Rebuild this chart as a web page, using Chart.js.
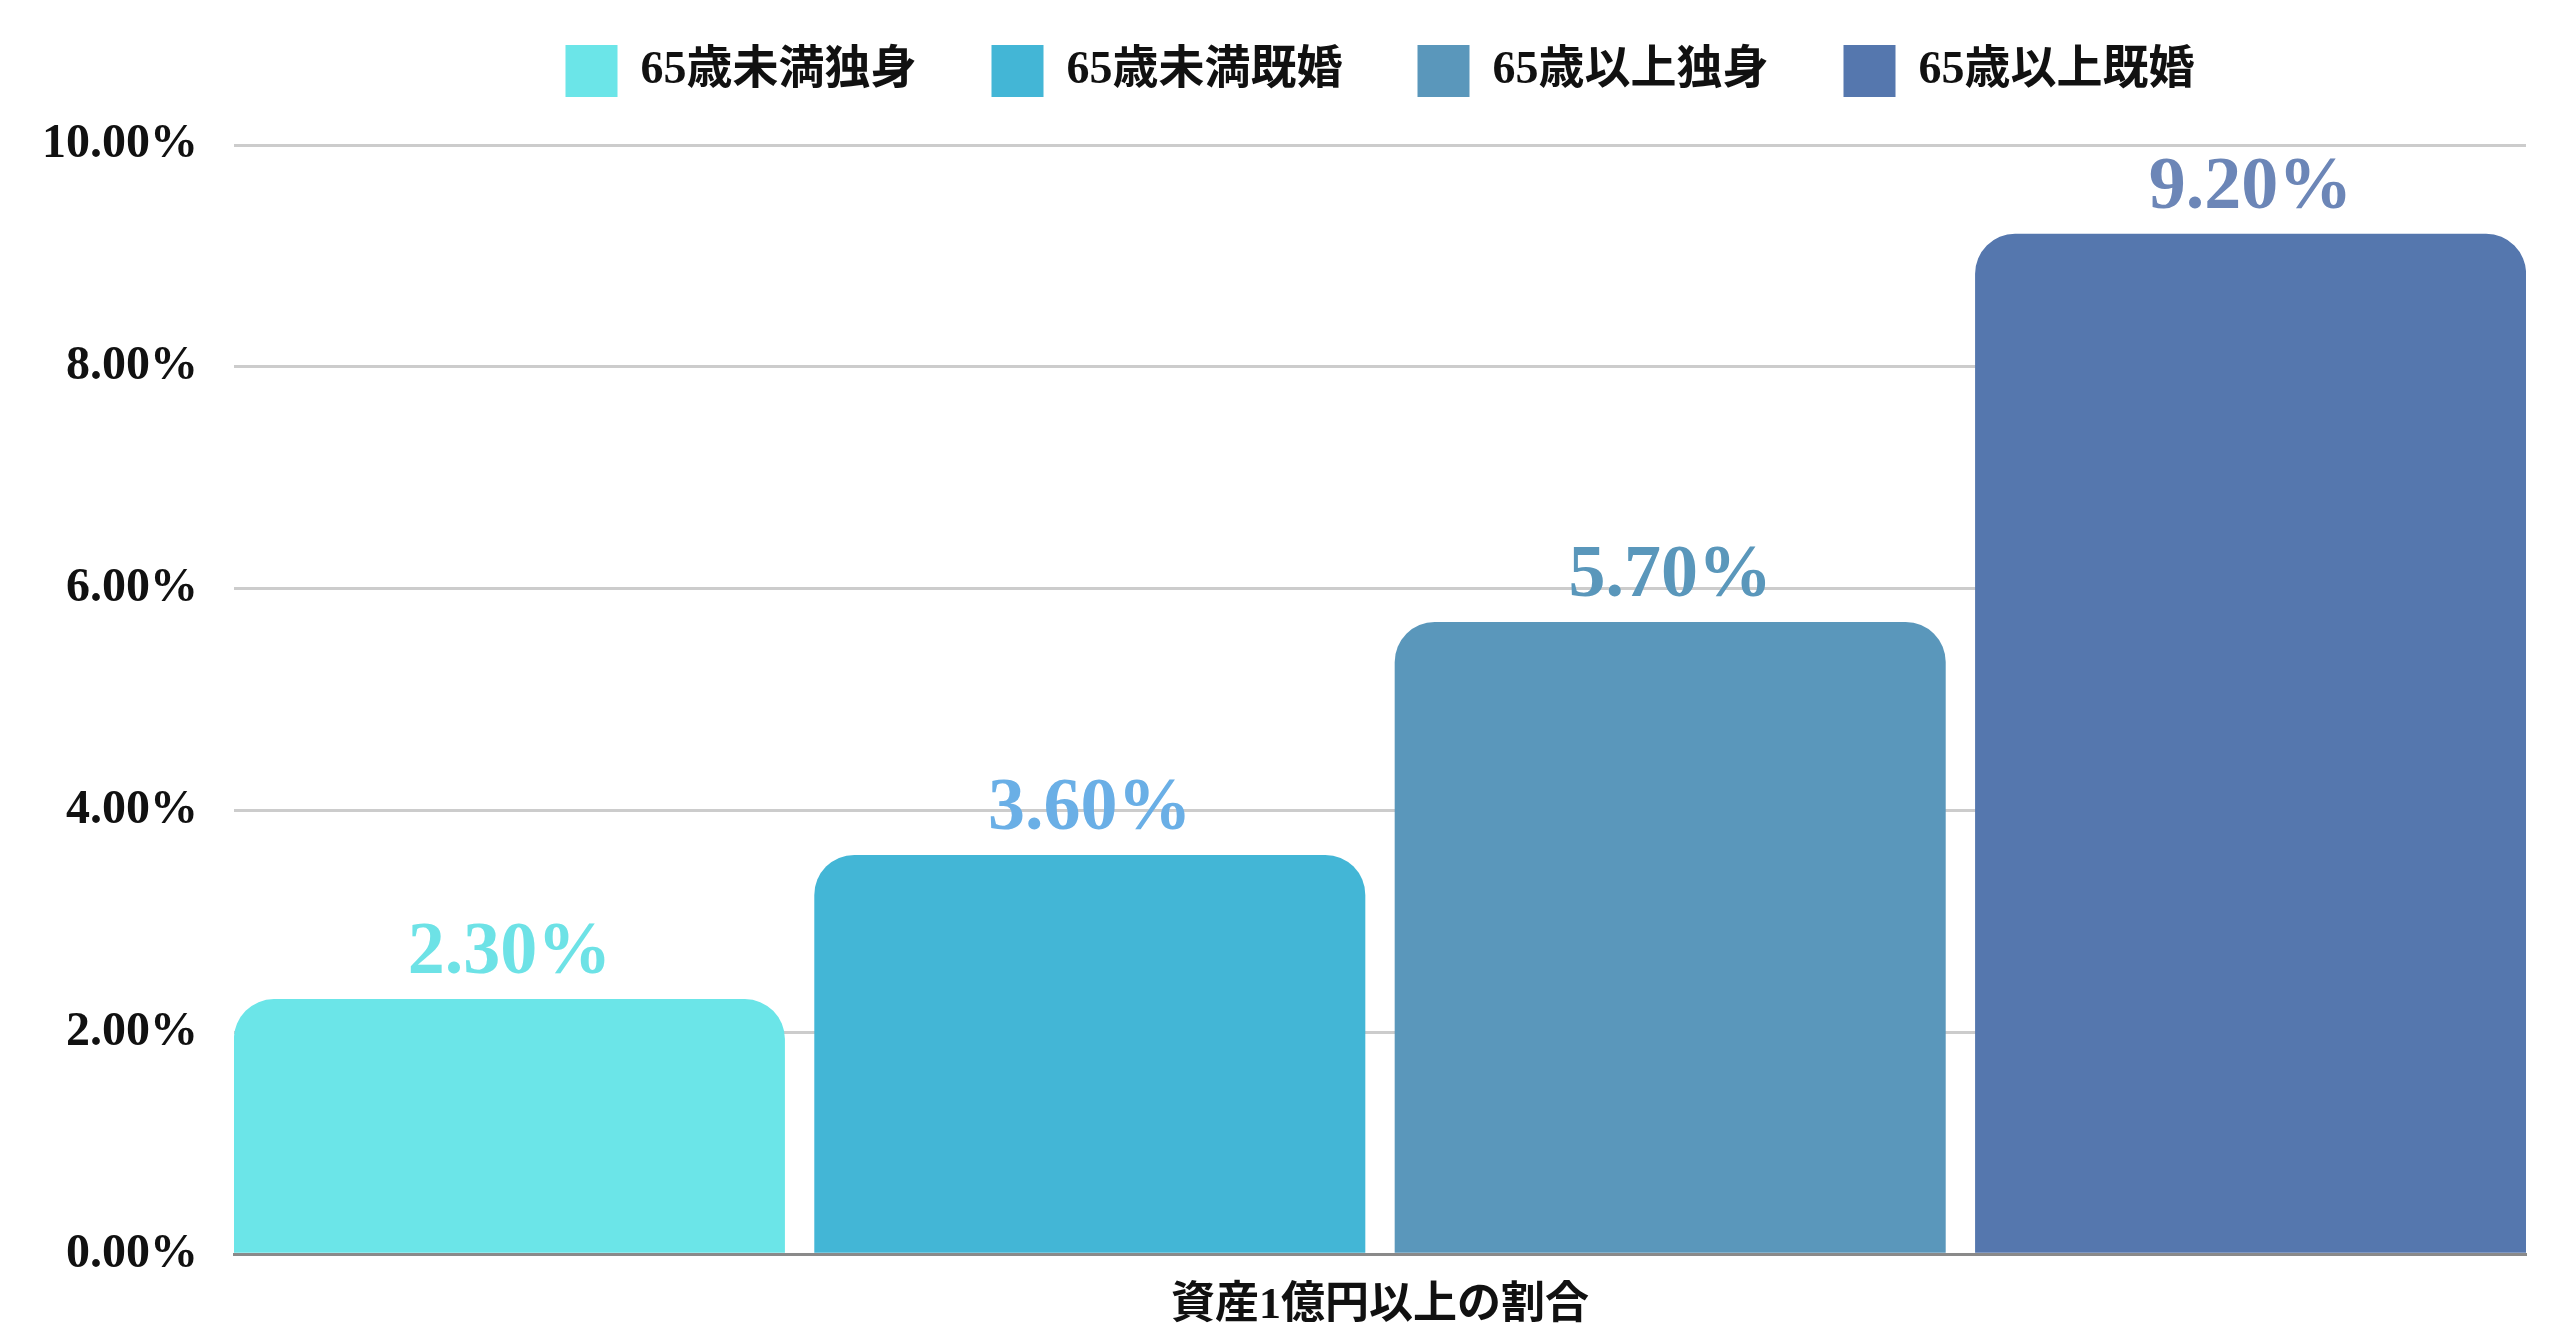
<!DOCTYPE html>
<html>
<head>
<meta charset="utf-8">
<script src="https://cdn.jsdelivr.net/npm/chart.js@4/dist/chart.umd.min.js"></script>
<style>
 html, body { margin:0; padding:0; background:#fff; }
 #wrap { width:2560px; height:1337px; }
</style>
</head>
<body>
<div id="wrap"><canvas id="chart"></canvas></div>
<script>

const categories = ["資産1億円以上の割合"]
const seriesNames = ["65歳未満独身", "65歳未満既婚", "65歳以上独身", "65歳以上既婚"]
const seriesValues = [2.3, 3.6, 5.7, 9.2]
const barColors = ["#6be5e8", "#43b6d6", "#5a97bb", "#5577ae"]
const labelColors = ["#6de2e6", "#6aafe6", "#5a97bb", "#6c86b7"]
const yTicks = [0, 2, 4, 6, 8, 10]

const FONT = '"Liberation Serif", "Noto Sans CJK JP", serif'

// value labels above each bar
const valueLabels = {
 id: "valueLabels",
 afterDatasetsDraw(chart){
  const ctx = chart.ctx
  ctx.save()
  ctx.font = "bold 74px " + FONT
  ctx.textAlign = "center"
  ctx.textBaseline = "alphabetic"
  chart.data.datasets.forEach((ds, i)=>{
   const bar = chart.getDatasetMeta(i).data[0]
   ctx.fillStyle = labelColors[i]
   ctx.fillText(ds.data[0].toFixed(2) + "%", bar.x, bar.y - 26)
  })
  ctx.restore()
 }
}

const datasets = seriesNames.map((name, i)=>({
 label: name,
 data: [seriesValues[i]],
 backgroundColor: barColors[i],
 borderWidth: 0,
 borderRadius: 40,
 borderSkipped: "bottom",
 categoryPercentage: 1.0129,
 barPercentage: 0.9494
}))

new Chart(document.getElementById("chart").getContext("2d"), {
 type: "bar",
 data: { labels: categories, datasets: datasets },
 plugins: [valueLabels],
 options: {
  responsive: true,
  maintainAspectRatio: false,
  animation: false,
  layout: { padding: { top: -30, left: 6, right: 34, bottom: -14 } },
  plugins: {
   tooltip: { enabled: false },
   legend: {
    position: "top",
    fullSize: false,
    weight: 3000,
    labels: {
     boxWidth: 52,
     boxHeight: 52,
     padding: 75,
     color: "#111",
     font: { family: FONT, size: 46, weight: "bold" }
    }
   },
   title: {
    display: true,
    text: "",
    font: { size: 1, lineHeight: 1 },
    padding: { top: 0, bottom: 37 }
   }
  },
  scales: {
   x: {
    grid: { display: false },
    border: { display: true, color: "#8a8a8a", width: 3 },
    ticks: {
     color: "#111",
     padding: 18,
     font: { family: FONT, size: 44, weight: "bold" }
    }
   },
   y: {
    min: yTicks[0],
    max: yTicks[yTicks.length - 1],
    afterBuildTicks(scale){
     scale.ticks = yTicks.map(v=>({ value: v }))
    },
    grid: { color: "#cccccc", lineWidth: 3, drawTicks: false },
    border: { display: false },
    ticks: {
     color: "#111",
     padding: 36,
     font: { family: FONT, size: 48, weight: "bold" },
     callback: v => v.toFixed(2) + "%"
    }
   }
  }
 }
})

</script>
</body>
</html>
